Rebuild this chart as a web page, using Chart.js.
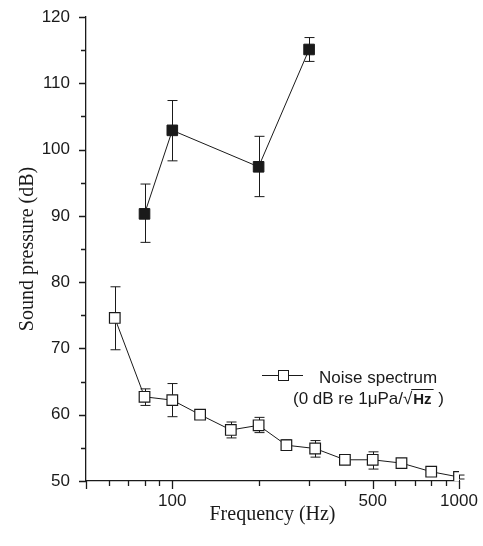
<!DOCTYPE html>
<html>
<head>
<meta charset="utf-8">
<script src="https://cdn.jsdelivr.net/npm/chart.js@4"></script>
<style>
  html, body { margin: 0; padding: 0; background: #fff; }
  #wrap { width: 483px; height: 546px; }
</style>
</head>
<body>
<div id="wrap"><canvas id="chart" width="483" height="546"></canvas></div>
<script>
// measured (filled squares)
const measFreq = [80, 100, 200, 300];
const measDb   = [90.3, 102.9, 97.4, 115.1];
const measHi   = [94.8, 107.4, 102.0, 116.9];
const measLo   = [86.0, 98.3, 92.9, 113.3];

// noise spectrum (open squares), third-octave bands
const noiseFreq = [63, 80, 100, 125, 160, 200, 250, 315, 400, 500, 630, 800, 1000];
const noiseDb   = [74.6, 62.7, 62.2, 60.0, 57.7, 58.4, 55.4, 54.9, 53.2, 53.2, 52.7, 51.4, 50.6];
const noiseHi   = [79.3, 63.9, 64.7, 60.3, 58.9, 59.6, 56.2, 56.1, 53.5, 54.4, 53.0, 51.7, 50.9];
const noiseLo   = [69.8, 61.4, 59.7, 59.7, 56.5, 57.3, 54.6, 53.6, 52.9, 51.8, 52.4, 51.1, 50.3];

// axis ticks
const xTicks  = [50, 60, 70, 80, 90, 100, 200, 300, 400, 500, 600, 700, 800, 900, 1000];
const xLabels = [100, 500, 1000];
const yTicks  = [50, 55, 60, 65, 70, 75, 80, 85, 90, 95, 100, 105, 110, 115, 120];

const INK = '#1a1a1a';

const errBars = {
  id: 'errBars',
  beforeDatasetsDraw(chart) {
    const { ctx, scales: { x, y } } = chart;
    const sets = [[measFreq, measHi, measLo], [noiseFreq, noiseHi, noiseLo]];
    ctx.save();
    ctx.strokeStyle = INK;
    ctx.lineWidth = 1;
    sets.forEach(([f, hi, lo]) => {
      f.forEach((v, i) => {
        const px = Math.round(x.getPixelForValue(v)) + 0.5;
        const yh = y.getPixelForValue(hi[i]);
        const yl = y.getPixelForValue(lo[i]);
        ctx.beginPath();
        ctx.moveTo(px, yh); ctx.lineTo(px, yl);
        ctx.moveTo(px - 5, yh); ctx.lineTo(px + 5, yh);
        ctx.moveTo(px - 5, yl); ctx.lineTo(px + 5, yl);
        ctx.stroke();
      });
    });
    ctx.restore();
  }
};

const tickMarks = {
  id: 'tickMarks',
  afterDraw(chart) {
    const { ctx, scales: { x, y }, chartArea: a } = chart;
    ctx.save();
    ctx.strokeStyle = INK;
    ctx.lineWidth = 1.3;
    ctx.beginPath();
    xTicks.forEach(v => {
      const px = Math.round(x.getPixelForValue(v)) + 0.5;
      const len = (v === 100 || v === 500 || v === 1000 || v === 50) ? 8 : 5;
      ctx.moveTo(px, a.bottom); ctx.lineTo(px, a.bottom + len);
    });
    yTicks.forEach(v => {
      const py = Math.round(y.getPixelForValue(v)) + 0.5;
      const len = v % 10 === 0 ? 7 : 5;
      ctx.moveTo(a.left, py); ctx.lineTo(a.left - len, py);
    });
    ctx.stroke();
    ctx.restore();
  }
};

const legendBox = {
  id: 'legendBox',
  afterDraw(chart) {
    const { ctx } = chart;
    ctx.save();
    ctx.strokeStyle = INK;
    ctx.lineWidth = 1;
    ctx.beginPath();
    ctx.moveTo(262, 375.5); ctx.lineTo(303, 375.5);
    ctx.stroke();
    ctx.fillStyle = '#fff';
    ctx.fillRect(278, 370, 11, 11);
    ctx.strokeRect(278.5, 370.5, 10, 10);

    ctx.fillStyle = INK;
    ctx.textBaseline = 'alphabetic';
    ctx.font = '17px "Liberation Sans", Arial, sans-serif';
    ctx.fillText('Noise spectrum', 319, 383);
    let tx = 293;
    const part1 = '(0 dB re 1\u03bcPa/';
    ctx.fillText(part1, tx, 404);
    tx += ctx.measureText(part1).width;
    ctx.fillText('\u221a', tx, 404);
    const rw = ctx.measureText('\u221a').width;
    tx += rw;
    ctx.font = 'bold 15px "Liberation Sans", Arial, sans-serif';
    const hz = 'Hz';
    const hw = ctx.measureText(hz).width;
    ctx.fillText(hz, tx + 1, 404);
    ctx.beginPath();
    ctx.moveTo(tx - 1, 389.5); ctx.lineTo(tx + hw + 3, 389.5);
    ctx.stroke();
    ctx.font = '17px "Liberation Sans", Arial, sans-serif';
    ctx.fillText(' )', tx + hw + 3, 404);
    ctx.restore();
  }
};

new Chart(document.getElementById('chart'), {
  type: 'scatter',
  data: {
    datasets: [{
      label: 'Measured',
      data: measFreq.map((f, i) => ({ x: f, y: measDb[i] })),
      showLine: true,
      borderColor: INK,
      borderWidth: 1,
      pointStyle: 'rect',
      pointRadius: 7.5,
      pointBackgroundColor: INK,
      pointBorderColor: INK,
      pointBorderWidth: 1
    }, {
      label: 'Noise spectrum',
      data: noiseFreq.map((f, i) => ({ x: f, y: noiseDb[i] })),
      showLine: true,
      borderColor: INK,
      borderWidth: 1,
      pointStyle: 'rect',
      pointRadius: 7.5,
      pointBackgroundColor: '#fff',
      pointBorderColor: INK,
      pointBorderWidth: 1.2
    }]
  },
  options: {
    responsive: false,
    animation: false,
    layout: { autoPadding: false, padding: { left: 0, right: 24, top: 17, bottom: 0 } },
    plugins: {
      legend: { display: false },
      tooltip: { enabled: false }
    },
    scales: {
      x: {
        type: 'logarithmic',
        min: 50,
        max: 1000,
        grid: { display: false, drawTicks: false },
        border: { display: true, color: INK, width: 1.3 },
        afterBuildTicks: s => { s.ticks = xTicks.map(v => ({ value: v })); },
        afterFit: s => { s.height = 65; s.paddingLeft = 0; s.paddingRight = 0; },
        ticks: {
          autoSkip: false,
          maxRotation: 0,
          padding: 10,
          color: INK,
          font: { family: '"Liberation Sans", Arial, sans-serif', size: 17 },
          callback: v => xLabels.includes(v) ? String(v) : ''
        },
        title: {
          display: true,
          text: 'Frequency (Hz)',
          color: INK,
          font: { family: '"Liberation Serif", "Times New Roman", serif', size: 20 },
          padding: { top: 0, bottom: 19 }
        }
      },
      y: {
        min: 50,
        max: 120,
        grid: { display: false, drawTicks: false },
        border: { display: true, color: INK, width: 1.3 },
        afterBuildTicks: s => { s.ticks = yTicks.map(v => ({ value: v })); },
        afterFit: s => { s.width = 86; s.paddingTop = 0; s.paddingBottom = 0; },
        ticks: {
          autoSkip: false,
          padding: 16,
          color: INK,
          font: { family: '"Liberation Sans", Arial, sans-serif', size: 17 },
          callback: v => v % 10 === 0 ? String(v) : ''
        },
        title: {
          display: true,
          text: 'Sound pressure (dB)',
          color: INK,
          font: { family: '"Liberation Serif", "Times New Roman", serif', size: 20 },
          padding: { top: 16, bottom: 0 }
        }
      }
    }
  },
  plugins: [errBars, tickMarks, legendBox]
});
</script>
</body>
</html>
